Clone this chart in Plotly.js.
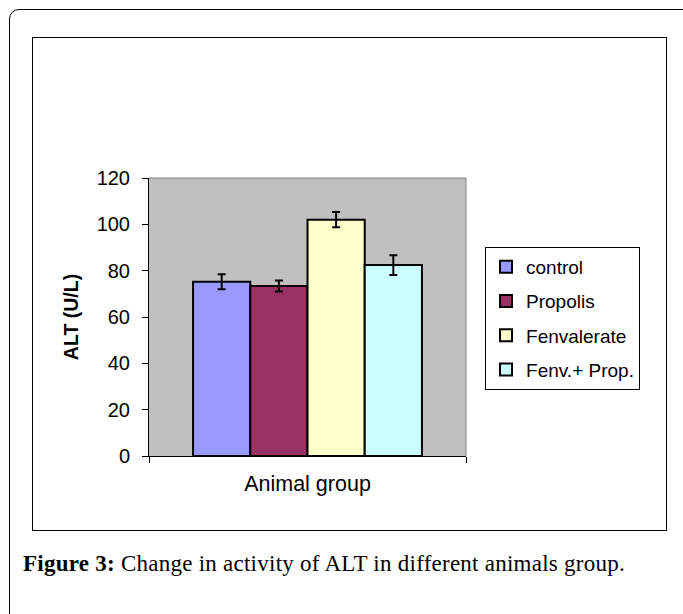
<!DOCTYPE html>
<html>
<head>
<meta charset="utf-8">
<script src="https://cdn.plot.ly/plotly-3.0.1.min.js"></script>
<style>
  html, body { margin: 0; padding: 0; background: #fff; width: 683px; height: 614px; overflow: hidden; position: relative; }
  #frame { position: absolute; left: 9px; top: 9px; width: 720px; height: 700px; border: 1.5px solid #000; border-radius: 10px; box-sizing: border-box; }
  #box { position: absolute; left: 32px; top: 37px; width: 633px; height: 492px; border: 1px solid #000; background: #fff; }
  #chart { width: 633px; height: 492px; }
  #caption { position: absolute; left: 23px; top: 551px; line-height: 26px; font-family: "Liberation Serif", "DejaVu Serif", serif; font-size: 23px; letter-spacing: 0.25px; color: #000; white-space: nowrap; }
</style>
</head>
<body>
<div id="frame"></div>
<div id="box"><div id="chart"></div></div>
<div id="caption"><b>Figure 3:</b> Change in activity of ALT in different animals group.</div>
<script>
// Data
const groups = ['control', 'Propolis', 'Fenvalerate', 'Fenv.+ Prop.'];
const altValues = [75.2, 73.4, 102.0, 82.4];
const altErrors = [3.2, 2.4, 3.3, 4.3];
const category = ['Animal group'];
const barColors = ['#9999FF', '#993366', '#FFFFCC', '#CCFFFF'];
const yTicks = [0, 20, 40, 60, 80, 100, 120];

const traces = groups.map((g, i) => ({
  type: 'bar',
  name: g,
  x: category,
  y: [altValues[i]],
  legendgroup: g,
  marker: { color: barColors[i], line: { color: '#000', width: 2 } },
  error_y: { type: 'data', array: [altErrors[i]], visible: true, color: '#000', thickness: 2, width: 4 },
  hoverinfo: 'name+y'
}));

const layout = {
  width: 633,
  height: 492,
  margin: { l: 116, r: 200, t: 140, b: 74 },
  paper_bgcolor: '#fff',
  plot_bgcolor: '#C0C0C0',
  barmode: 'group',
  bargap: 0.278,
  bargroupgap: 0,
  showlegend: true,
  font: { family: 'Liberation Sans, Arial, sans-serif', color: '#000' },
  xaxis: {
    type: 'category',
    range: [-0.5, 0.5],
    tickson: 'boundaries',
    ticks: 'outside',
    ticklen: 6,
    tickcolor: '#000',
    showticklabels: false,
    showline: true,
    linecolor: '#000',
    linewidth: 1,
    showgrid: false,
    zeroline: false,
    title: { text: 'Animal group', font: { size: 21.5, family: 'Liberation Sans, Arial, sans-serif' }, standoff: 19 }
  },
  yaxis: {
    range: [0, 120],
    tickvals: yTicks,
    ticks: 'outside',
    ticklen: 6,
    tickcolor: '#000',
    ticklabelstandoff: 8,
    tickfont: { size: 20, family: 'Liberation Sans, Arial, sans-serif' },
    showline: true,
    linecolor: '#000',
    linewidth: 1,
    showgrid: false,
    zeroline: false,
    title: { text: '<b>ALT (U/L)</b>', font: { size: 19.5, family: 'Liberation Sans, Arial, sans-serif' }, standoff: 12 }
  },
  legend: {
    x: 1.06, y: 0.752, xanchor: 'left', yanchor: 'top',
    bgcolor: '#fff', bordercolor: '#000', borderwidth: 1,
    font: { size: 19, family: 'Liberation Sans, Arial, sans-serif' },
    tracegroupgap: 6.5,
    itemwidth: 30,
    entrywidth: 125,
    entrywidthmode: 'pixels'
  },
  shapes: [
    { type: 'line', xref: 'paper', yref: 'paper', x0: 0, x1: 1, y0: 1, y1: 1, line: { color: '#808080', width: 1 } },
    { type: 'line', xref: 'paper', yref: 'paper', x0: 1, x1: 1, y0: 0, y1: 1, line: { color: '#808080', width: 1 } }
  ]
};

Plotly.newPlot('chart', traces, layout, { displayModeBar: false, staticPlot: true });
</script>
</body>
</html>
